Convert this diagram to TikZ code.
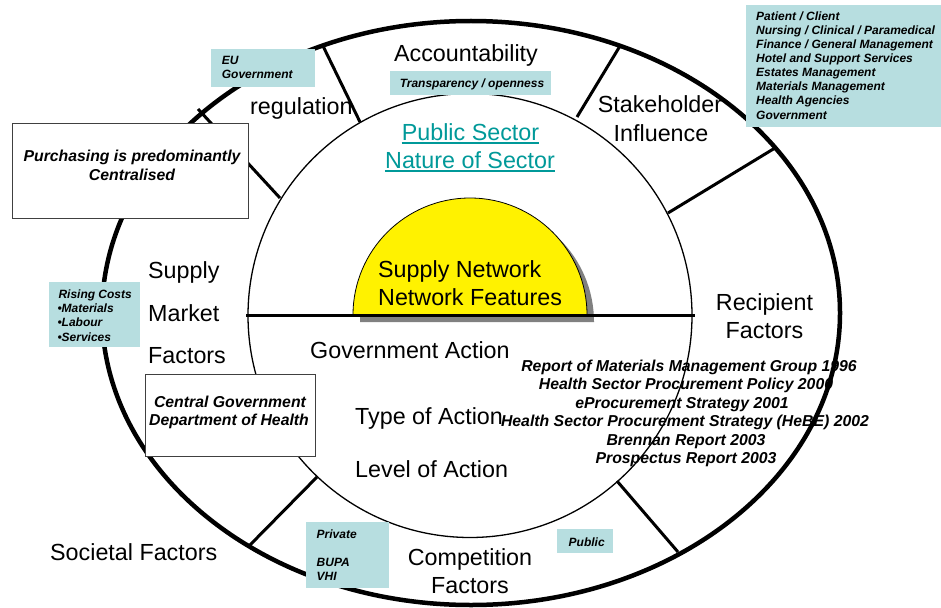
\documentclass[tikz,border=0pt]{standalone}
\usepackage{fontspec}
\setmainfont{Liberation Sans}
\definecolor{boxblue}{RGB}{183,222,224}
\definecolor{tealtxt}{RGB}{0,153,153}
\definecolor{shadowgray}{RGB}{128,128,128}
\begin{document}
\begin{tikzpicture}[x=1pt,y=-1pt,
  big/.style={inner sep=0pt, font=\fontsize{23.3}{28}\selectfont},
  med/.style={inner sep=0pt, font=\fontsize{15.8}{19}\selectfont\bfseries\itshape},
  sml/.style={inner sep=0pt, font=\fontsize{12}{14}\selectfont\bfseries\itshape},
  bluebox/.style={fill=boxblue, draw=none, inner sep=0pt},
  whitebox/.style={fill=white, draw=black!75, line width=0.8pt, inner sep=0pt},
  spoke/.style={line width=3pt},
]
\useasboundingbox (0,0) rectangle (941,607);
\fill[white] (0,0) rectangle (941,607);

% centres
\coordinate (oc) at (471,313);
\coordinate (ic) at (470,315.5);

% outer ellipse
\draw[line width=4.5pt] (oc) ellipse [x radius=369pt, y radius=292pt];

% spokes
\coordinate (s1a) at (360,122); \coordinate (s1b) at (323,46);
\coordinate (s2a) at (577,117); \coordinate (s2b) at (620,46);
\coordinate (s3a) at (668,213); \coordinate (s3b) at (775,148);
\coordinate (s4a) at (280,198); \coordinate (s4b) at (198,109);
\coordinate (s5a) at (317,477); \coordinate (s5b) at (248,547);
\coordinate (s6a) at (617,481); \coordinate (s6b) at (678,552);
\foreach \i in {1,...,6} { \draw[spoke] (s\i a) -- (s\i b); }

% inner circle
\draw[line width=1.3pt] (ic) circle [radius=222pt];

% yellow half disc with shadow
\fill[shadowgray] (360,322) arc[start angle=180, end angle=0, radius=117pt] -- cycle;
\draw[fill=yellow, line width=0.8pt] (353,315) arc[start angle=180, end angle=0, radius=117pt] -- cycle;

% horizontal divider
\coordinate (hl) at (246,315); \coordinate (hr) at (695,315);
\draw[line width=3pt] (hl) -- (hr);

% main labels
\node[big, anchor=base] (acc) at (466,62) {Accountability};
\node[big, anchor=base west] (reg) at (250,114) {regulation};
\node[big, anchor=base] (stk1) at (660,113) {Stakeholder};
\node[big, anchor=base] (stk2) at (661,141) {Influence};
\node[big, anchor=base, text=tealtxt] (ps1) at (470.5,140) {Public Sector};
\node[big, anchor=base, text=tealtxt] (ps2) at (470,168) {Nature of Sector};
\draw[tealtxt, line width=1.5pt] ([yshift=-3pt]ps1.base west) -- ([yshift=-3pt]ps1.base east);
\draw[tealtxt, line width=1.5pt] ([yshift=-3pt]ps2.base west) -- ([yshift=-3pt]ps2.base east);
\node[big, anchor=base west] (sn1) at (378,277) {Supply Network};
\node[big, anchor=base west] (sn2) at (378,305) {Network Features};
\node[big, anchor=base] (rf1) at (764.5,310.7) {Recipient};
\node[big, anchor=base] (rf2) at (764.5,338) {Factors};
\node[big, anchor=base west] (sm1) at (148,278) {Supply};
\node[big, anchor=base west] (sm2) at (148,321) {Market};
\node[big, anchor=base west] (sm3) at (148,363) {Factors};
\node[big, anchor=base west] (ga) at (310,358) {Government Action};
\node[big, anchor=base west] (ta) at (355,424) {Type of Action};
\node[big, anchor=base west] (la) at (355,477) {Level of Action};
\node[big, anchor=base west] (sf) at (50,560) {Societal Factors};
\node[big, anchor=base] (cf1) at (470,565) {Competition};
\node[big, anchor=base] (cf2) at (470,593) {Factors};

% reports
\node[med, anchor=base] (r1) at (689,371) {Report of Materials Management Group 1996};
\node[med, anchor=base] (r2) at (686,389.5) {Health Sector Procurement Policy 2000};
\node[med, anchor=base] (r3) at (682,408) {eProcurement Strategy 2001};
\node[med, anchor=base] (r4) at (685,426.5) {Health Sector Procurement Strategy (HeBE) 2002};
\node[med, anchor=base] (r5) at (686,445) {Brennan Report 2003};
\node[med, anchor=base] (r6) at (686,463.5) {Prospectus Report 2003};

% boxes
\node[bluebox, minimum width=104pt, minimum height=38pt] (eubox) at (263,68) {};
\node[sml, anchor=base west] (eu1) at (221.7,65) {EU};
\node[sml, anchor=base west] (eu2) at (221.7,79) {Government};

\node[bluebox, minimum width=161pt, minimum height=24pt] (trbox) at (470.5,83) {};
\node[sml, anchor=base] (tr) at (472,87.3) {Transparency / openness};

\node[bluebox, minimum width=195pt, minimum height=122pt] (stbox) at (843.5,66) {};
\node[sml, anchor=base west] (st1) at (756,21) {Patient / Client};
\node[sml, anchor=base west] (st2) at (756,35) {Nursing / Clinical / Paramedical};
\node[sml, anchor=base west] (st3) at (756,49) {Finance / General Management};
\node[sml, anchor=base west] (st4) at (756,63) {Hotel and Support Services};
\node[sml, anchor=base west] (st5) at (756,77) {Estates Management};
\node[sml, anchor=base west] (st6) at (756,91) {Materials Management};
\node[sml, anchor=base west] (st7) at (756,105) {Health Agencies};
\node[sml, anchor=base west] (st8) at (756,119) {Government};

\node[whitebox, minimum width=236pt, minimum height=95pt] (pubox) at (130,170.5) {};
\node[med, anchor=base] (pu1) at (132,161.5) {Purchasing is predominantly};
\node[med, anchor=base] (pu2) at (132,180) {Centralised};

\node[bluebox, minimum width=91pt, minimum height=65pt] (rcbox) at (94.5,314.5) {};
\node[sml, anchor=base west] (rc1) at (58.3,298) {Rising Costs};
\node[sml, anchor=base west] (rc2) at (57.3,312.3) {•Materials};
\node[sml, anchor=base west] (rc3) at (57.3,326.7) {•Labour};
\node[sml, anchor=base west] (rc4) at (57.3,341) {•Services};

\node[whitebox, minimum width=170pt, minimum height=82pt] (cgbox) at (230,415) {};
\node[med, anchor=base] (cg1) at (230,407) {Central Government};
\node[med, anchor=base] (cg2) at (229,425) {Department of Health};

\node[bluebox, minimum width=83pt, minimum height=66pt] (prbox) at (347.5,555) {};
\node[sml, anchor=base west] (pr1) at (316.5,538) {Private};
\node[sml, anchor=base west] (pr2) at (316.5,566.7) {BUPA};
\node[sml, anchor=base west] (pr3) at (316.5,580) {VHI};

\node[bluebox, minimum width=56pt, minimum height=24pt] (pbbox) at (585,541) {};
\node[sml, anchor=base] (pb) at (586.7,546) {Public};
\end{tikzpicture}
\end{document}
